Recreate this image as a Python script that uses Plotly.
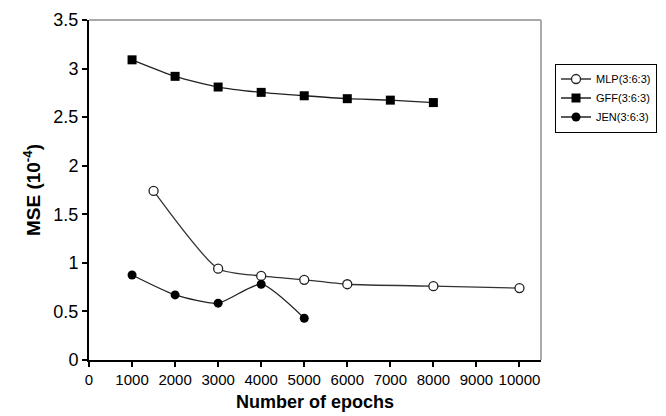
import plotly.graph_objects as go

gff_x = [1000, 2000, 3000, 4000, 5000, 6000, 7000, 8000]
gff_y = [3.09, 2.92, 2.81, 2.755, 2.72, 2.69, 2.675, 2.65]

mlp_x = [1500, 3000, 4000, 5000, 6000, 8000, 10000]
mlp_y = [1.74, 0.94, 0.865, 0.825, 0.78, 0.76, 0.74]

jen_x = [1000, 2000, 3000, 4000, 5000]
jen_y = [0.875, 0.67, 0.585, 0.78, 0.43]

x_ticks = list(range(0, 10001, 1000))
y_ticks = [0, 0.5, 1, 1.5, 2, 2.5, 3, 3.5]

fig = go.Figure()
fig.add_trace(go.Scatter(
    x=mlp_x, y=mlp_y, name="MLP(3:6:3)", mode="lines+markers",
    line=dict(color="#333333", width=1.3, shape="spline", smoothing=0.6),
    marker=dict(symbol="circle", size=9, color="white", line=dict(color="#222222", width=1.3)),
))
fig.add_trace(go.Scatter(
    x=gff_x, y=gff_y, name="GFF(3:6:3)", mode="lines+markers",
    line=dict(color="#222222", width=1.3, shape="spline", smoothing=0.6),
    marker=dict(symbol="square", size=9, color="black"),
))
fig.add_trace(go.Scatter(
    x=jen_x, y=jen_y, name="JEN(3:6:3)", mode="lines+markers",
    line=dict(color="#222222", width=1.3, shape="spline", smoothing=0.6),
    marker=dict(symbol="circle", size=9, color="black"),
))

fig.update_layout(
    width=658, height=408,
    margin=dict(l=81, r=125, t=12, b=56, autoexpand=False),
    paper_bgcolor="white", plot_bgcolor="white",
    font=dict(family="Liberation Sans, Arial", color="black"),
    showlegend=True,
    legend=dict(
        x=1.031, y=0.872, xanchor="left", yanchor="top",
        bordercolor="black", borderwidth=1, bgcolor="white",
        font=dict(size=11, color="black"),
        tracegroupgap=0, itemwidth=30,
    ),
    shapes=[
        dict(type="line", xref="paper", yref="paper", x0=0, x1=1, y0=1, y1=1,
             line=dict(color="#aaaaaa", width=2)),
        dict(type="line", xref="paper", yref="paper", x0=1, x1=1, y0=0, y1=1,
             line=dict(color="#aaaaaa", width=2)),
    ],
    annotations=[
        dict(text="<b>Number of epochs</b>", xref="paper", yref="paper",
             x=0.5, y=-0.124, xanchor="center", yanchor="middle",
             showarrow=False, font=dict(size=18, color="black")),
        dict(text="<b>MSE (10<sup>-4</sup>)</b>", xref="paper", yref="paper",
             x=-0.126, y=0.5, xanchor="center", yanchor="middle", textangle=-90,
             showarrow=False, font=dict(size=19, color="black")),
    ],
)
fig.update_xaxes(
    range=[0, 10500], tickvals=x_ticks, ticktext=[str(v) for v in x_ticks],
    showgrid=False, zeroline=False, showline=True, linecolor="black", linewidth=2,
    ticks="outside", ticklen=5, tickcolor="black", tickwidth=1.5,
    tickfont=dict(size=15, color="black"), automargin=False,
)
fig.update_yaxes(
    range=[0, 3.5], tickvals=y_ticks, ticktext=[f"{v:g}" for v in y_ticks],
    showgrid=False, zeroline=False, showline=True, linecolor="black", linewidth=2,
    ticks="outside", ticklen=5, tickcolor="black", tickwidth=1.5,
    tickfont=dict(size=18, color="black"), automargin=False,
)

fig.write_html("out.html")
